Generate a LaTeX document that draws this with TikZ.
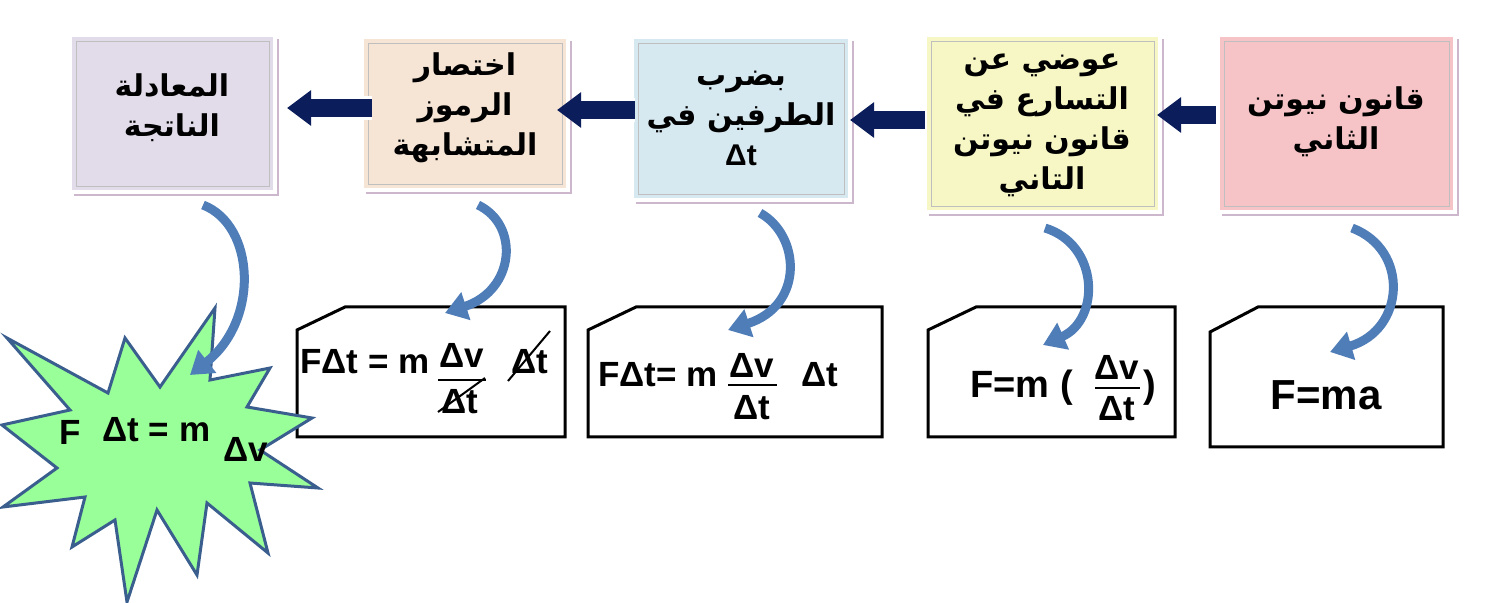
\documentclass[tikz,border=0pt]{standalone}
\usepackage{fontspec}
\usetikzlibrary{arrows.meta,shadows}
\setmainfont{Liberation Sans}
\newfontfamily\arabicfont[Script=Arabic]{DejaVu Sans}
\TeXXeTstate=1
\newcommand\artxt[1]{{\arabicfont\bfseries\beginR #1\endR}}
\definecolor{navy}{HTML}{0B1E5B}
\definecolor{cblue}{HTML}{4F7DB8}
\definecolor{cblued}{HTML}{3A5F8F}
\begin{document}
\begin{tikzpicture}[x=0.5pt,y=-0.5pt,
  topbox/.style={draw=white,line width=2pt,drop shadow={shadow xshift=2pt,shadow yshift=-2pt,fill=black!40!violet!40,opacity=.7}},
  navarrow/.style={navy,line width=9pt,-{Triangle[length=12pt,width=17pt]}},
  curv/.style={cblue,line width=4.5pt,-{Triangle[length=11pt,width=14pt]}},
  fbox/.style={draw=black,line width=1.5pt,fill=white},
  ar/.style={font=\fontsize{15}{20}\selectfont,align=center,text=black},
  fm/.style={font=\fontsize{17.5}{20}\selectfont\bfseries,inner sep=0pt},
  fmb/.style={font=\fontsize{21}{24}\selectfont\bfseries,inner sep=0pt}]
\useasboundingbox (0,0) rectangle (1493,603);
% top boxes
\path[topbox,fill={rgb,255:red,226;green,220;blue,234}] (70,35) rectangle (275,192);
\draw[black!25] (76,41) rectangle (269,186);
\node[ar] (b1) at (172,108) {\artxt{المعادلة}\\\artxt{الناتجة}};
\path[topbox,fill={rgb,255:red,246;green,228;blue,212}] (362,37) rectangle (568,190);
\draw[black!25] (368,43) rectangle (562,184);
\node[ar] (b2) at (465,108) {\artxt{اختصار}\\\artxt{الرموز}\\\artxt{المتشابهة}};
\path[topbox,fill={rgb,255:red,214;green,232;blue,240}] (632,37) rectangle (850,200);
\draw[black!25] (638,43) rectangle (844,194);
\node[ar] (b3) at (741,118) {\artxt{بضرب}\\\artxt{الطرفين في}\\{\bfseries Δt}};
\path[topbox,fill={rgb,255:red,247;green,247;blue,198}] (925,35) rectangle (1160,212);
\draw[black!25] (931,41) rectangle (1154,206);
\node[ar] (b4) at (1042,125) {\artxt{عوضي عن}\\\artxt{التسارع في}\\\artxt{قانون نيوتن}\\\artxt{التاني}};
\path[topbox,fill={rgb,255:red,246;green,196;blue,198}] (1218,35) rectangle (1455,212);
\draw[black!25] (1224,41) rectangle (1449,206);
\node[ar] (b5) at (1336,122) {\artxt{قانون نيوتن}\\\artxt{الثاني}};
% arrows between
\coordinate (a5s) at (1216,115); \coordinate (a5e) at (1160,115);
\coordinate (a4s) at (925,120); \coordinate (a4e) at (853,120);
\coordinate (a3s) at (635,110); \coordinate (a3e) at (560,110);
\coordinate (a2s) at (372,108); \coordinate (a2e) at (290,108);
\foreach \s/\e in {a5s/a5e,a4s/a4e,a3s/a3e,a2s/a2e}{
  \draw[white,line width=12pt,-{Triangle[length=15pt,width=22pt]}] (\s) -- (\e);
  \draw[navarrow] (\s) -- ([xshift=-1.5]\e);}
% bottom boxes
\draw[fbox] (297,330) -- (345,307) -- (565,307) -- (565,437) -- (297,437) -- cycle;
\draw[fbox] (588,330) -- (636,307) -- (882,307) -- (882,437) -- (588,437) -- cycle;
\draw[fbox] (928,330) -- (976,307) -- (1175,307) -- (1175,437) -- (928,437) -- cycle;
\draw[fbox] (1210,332) -- (1258,307) -- (1443,307) -- (1443,447) -- (1210,447) -- cycle;
% box A
\node[fm,anchor=west] (fa) at (300,362) {FΔt = m};
\node[fm] (fan) at (462,355) {Δv};
\draw[line width=1pt] (438,380) -- (486,380);
\node[fm] (fad) at (460,402) {Δt};
\draw[line width=1pt] (438,412) -- (485,378);
\node[fm] (fat) at (530,362) {Δt};
\draw[line width=1pt] (508,381) -- (550,331);
% box B
\node[fm,anchor=west] (fb) at (598,375) {FΔt= m};
\node[fm] (fbn) at (752,365) {Δv};
\draw[line width=1pt] (728,385) -- (777,385);
\node[fm] (fbd) at (752,408) {Δt};
\node[fm] (fbt) at (820,375) {Δt};
% box C
\node[fm,font=\fontsize{19}{22}\selectfont\bfseries,anchor=west] (fc) at (970,388) {F=m (};
\node[fm] (fcn) at (1117,367) {Δv};
\draw[line width=1pt] (1095,388) -- (1140,388);
\node[fm] (fcd) at (1117,409) {Δt};
\node[fm,font=\fontsize{19}{22}\selectfont\bfseries] (fcp) at (1150,388) {)};
% box D
\node[fmb] (fd) at (1326,395) {F=ma};
% star
\draw[cblued,line width=1.5pt,fill={rgb,255:red,153;green,255;blue,153}]
 (7,338) -- (108,393) -- (125,338) -- (160,387) -- (215,308) -- (210,380) -- (270,368) -- (247,407) -- (312,418) -- (260,450) -- (318,488) -- (250,483) -- (268,553) -- (207,503) -- (197,575) -- (157,510) -- (127,602) -- (115,520) -- (72,547) -- (85,497) -- (3,507) -- (57,468) -- (2,425) -- (70,410) -- cycle;
\node[fm] (sf) at (70,432) {F};
\node[fm,anchor=west] (sa) at (102,430) {Δt = m};
\node[fm] (sv) at (246,449) {Δv};
% curved arrows
\coordinate (c5s) at (1352,228); \coordinate (c5e) at (1330,352);
\coordinate (c4s) at (1045,228); \coordinate (c4e) at (1043,345);
\coordinate (c3s) at (760,213); \coordinate (c3e) at (728,330);
\coordinate (c2s) at (478,205); \coordinate (c2e) at (445,313);
\coordinate (c1s) at (203,205); \coordinate (c1e) at (190,375);
\draw[curv] (c5s) .. controls (1410,250) and (1405,330) .. (c5e);
\draw[curv] (c4s) .. controls (1100,245) and (1100,320) .. (c4e);
\draw[curv] (c3s) .. controls (800,235) and (805,305) .. (c3e);
\draw[curv] (c2s) .. controls (520,225) and (515,290) .. (c2e);
\draw[curv] (c1s) .. controls (255,225) and (260,320) .. (c1e);
\end{tikzpicture}
\end{document}
